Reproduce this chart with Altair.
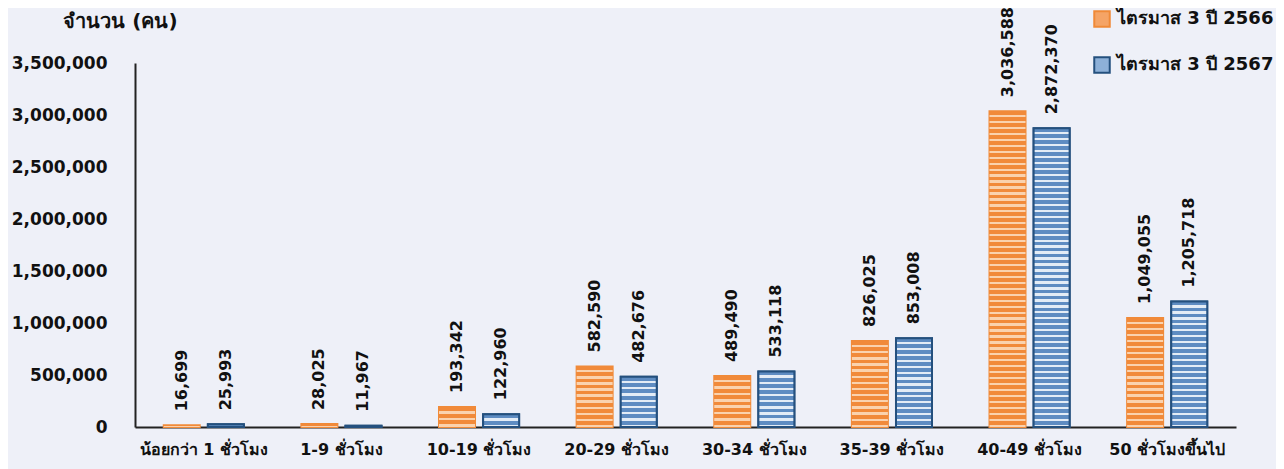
import altair as alt
import pandas as pd

categories = ["น้อยกว่า 1 ชั่วโมง", "1-9 ชั่วโมง", "10-19 ชั่วโมง", "20-29 ชั่วโมง",
              "30-34 ชั่วโมง", "35-39 ชั่วโมง", "40-49 ชั่วโมง", "50 ชั่วโมงขึ้นไป"]
series = ["ไตรมาส 3 ปี 2566", "ไตรมาส 3 ปี 2567"]
values_2566 = [16699, 28025, 193342, 582590, 489490, 826025, 3036588, 1049055]
values_2567 = [25993, 11967, 122960, 482676, 533118, 853008, 2872370, 1205718]

rows = []
for c, a, b in zip(categories, values_2566, values_2567):
    rows.append({"cat": c, "series": series[0], "value": a})
    rows.append({"cat": c, "series": series[1], "value": b})
df = pd.DataFrame(rows)
df["label"] = df["value"].map(lambda v: f"{v:,}")

FONT = "DejaVu Sans"
YMAX = 3500000
H = 364
STRIPE = 6.0

fills = {series[0]: ("#F18A3A", "#FAD2AE"), series[1]: ("#5E8CC2", "#E3ECF6")}
strokes = {series[0]: "#F08A38", series[1]: "#24507E"}


def stripes(base, light, n):
    stops = []
    for i in range(n):
        a = i / n
        m = (i + 0.62) / n
        b = (i + 1) / n
        stops += [alt.GradientStop(offset=a, color=base), alt.GradientStop(offset=m, color=base),
                  alt.GradientStop(offset=m, color=light), alt.GradientStop(offset=b, color=light)]
    return alt.Gradient(gradient="linear", x1=0, y1=0, x2=0, y2=1, stops=stops)


x = alt.X("cat:N", sort=categories, title=None,
          scale=alt.Scale(paddingInner=0, paddingOuter=0),
          axis=alt.Axis(labelAngle=0, labelFontSize=16, labelFontWeight="bold",
                        labelColor="#111111", labelPadding=14, ticks=False,
                        domainColor="#222222", domainWidth=2, labelFont=FONT))
xo = alt.XOffset("series:N", sort=series,
                 scale=alt.Scale(paddingInner=0.18, paddingOuter=0.65))
y = alt.Y("value:Q", scale=alt.Scale(domain=[0, YMAX], nice=False),
          axis=alt.Axis(values=[0, 500000, 1000000, 1500000, 2000000, 2500000, 3000000, 3500000],
                        format=",d", grid=False, ticks=False, labelPadding=28,
                        labelFontSize=17, labelFontWeight="bold", labelColor="#111111",
                        labelFont=FONT,
                        domainColor="#222222", domainWidth=2,
                        title="จำนวน (คน)", titleAngle=0, titleX=-15, titleY=-42,
                        titleAlign="center", titleBaseline="middle",
                        titleFontSize=20, titleFontWeight="bold", titleColor="#111111",
                        titleFont=FONT))

color = alt.Color("series:N", sort=series,
                  scale=alt.Scale(domain=series, range=["#F5A466", "#8DB0D8"]),
                  legend=alt.Legend(title=None, orient="none", legendX=958, legendY=-53,
                                    symbolType="square", symbolSize=240,
                                    symbolStrokeWidth=2, labelFontSize=18,
                                    labelFontWeight="bold", labelColor="#111111",
                                    labelFont=FONT, rowPadding=22, labelOffset=6))
stroke = alt.Stroke("series:N", sort=series,
                    scale=alt.Scale(domain=series, range=["#F08A38", "#24507E"]),
                    legend=None)

base = alt.Chart(df).mark_bar(size=36, strokeWidth=2).encode(
    x=x, xOffset=xo, y=y, color=color, stroke=stroke)

layers = [base]
for _, r in df.iterrows():
    h = r["value"] / YMAX * H
    n = max(1, int(round(h / STRIPE)))
    base_c, light_c = fills[r["series"]]
    sw = 2 if r["series"] == series[1] else 0
    sub = df[(df["cat"] == r["cat"]) & (df["series"] == r["series"])]
    layers.append(
        alt.Chart(sub).mark_bar(size=36, fill=stripes(base_c, light_c, n),
                                stroke=strokes[r["series"]], strokeWidth=sw).encode(
            x=alt.X("cat:N", sort=categories),
            xOffset=alt.XOffset("series:N", sort=series),
            y="value:Q"))

labels = alt.Chart(df).mark_text(angle=270, align="left", baseline="middle", dx=14,
                                 fontSize=16, fontWeight="bold", color="#111111",
                                 font=FONT).encode(
    x=alt.X("cat:N", sort=categories), xOffset=alt.XOffset("series:N", sort=series),
    y="value:Q", text="label:N")
layers.append(labels)

chart = alt.layer(*layers).properties(
    width=1101, height=H,
    autosize=alt.AutoSizeParams(type="none"),
    padding={"left": 127, "top": 55, "right": 40, "bottom": 42},
    background="#EEF0F8",
).configure_view(stroke=None)

chart.save("out.html", embed_options={"renderer": "svg", "actions": False})
